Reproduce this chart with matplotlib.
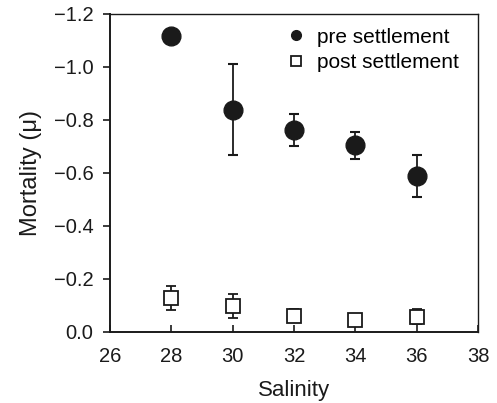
import matplotlib
matplotlib.use("Agg")
import matplotlib.pyplot as plt
from matplotlib.lines import Line2D
from matplotlib.ticker import FuncFormatter

plt.rcParams['font.family'] = ['Liberation Sans', 'DejaVu Sans']

salinity = [28, 30, 32, 34, 36]
pre_mean = [-1.117, -0.838, -0.762, -0.705, -0.588]
pre_err = [0.0, 0.172, 0.060, 0.051, 0.078]
post_mean = [-0.129, -0.099, -0.062, -0.045, -0.057]
post_err = [0.045, 0.046, 0.025, 0.018, 0.028]

ink = '#1a1a1a'

fig = plt.figure(figsize=(4.97, 4.03), dpi=100)
ax = fig.add_axes([0.2213, 0.1762, 0.7405, 0.7891])

ax.errorbar(salinity, pre_mean, yerr=pre_err, fmt='o', color=ink,
            markersize=13.5, ecolor=ink, elinewidth=1.3, capsize=3.5,
            capthick=1.5, zorder=3)
ax.errorbar(salinity, post_mean, yerr=post_err, fmt='s', color=ink,
            markerfacecolor='white', markeredgewidth=1.3, markersize=10,
            ecolor=ink, elinewidth=1.3, capsize=3.5, capthick=1.5,
            zorder=3)

ax.set_xlim(26, 38)
ax.set_ylim(0, -1.2)
ax.set_xticks([26, 28, 30, 32, 34, 36, 38])
ax.set_yticks([0, -0.2, -0.4, -0.6, -0.8, -1.0, -1.2])
ax.yaxis.set_major_formatter(FuncFormatter(
    lambda v, p: '0.0' if abs(v) < 1e-9 else f'{v:.1f}'.replace('-', '\u2212')))

ax.tick_params(axis='y', direction='out', length=5, width=1.2, labelsize=14.5,
               colors=ink, pad=7)
ax.tick_params(axis='x', direction='in', length=5, width=1.2, labelsize=14.5,
               colors=ink, pad=11)

for side in ['left', 'bottom']:
    ax.spines[side].set_linewidth(1.4)
for side in ['top', 'right']:
    ax.spines[side].set_linewidth(1.0)
for s in ax.spines.values():
    s.set_color(ink)

ax.set_xlabel('Salinity', fontsize=16, labelpad=10, color=ink)
ax.set_ylabel('Mortality (\u03bc)', fontsize=17, labelpad=8, color=ink)

handles = [
    Line2D([], [], marker='o', linestyle='none', color=ink, markersize=7),
    Line2D([], [], marker='s', linestyle='none', color=ink,
           markerfacecolor='white', markeredgewidth=1.3, markersize=6.5),
]
ax.legend(handles, ['pre settlement', 'post settlement'], loc='upper left',
          bbox_to_anchor=(0.478, 0.957),
          frameon=False, fontsize=15, handletextpad=0.5, labelspacing=0.3,
          borderaxespad=0.0, handlelength=1.0, borderpad=0.0)

fig.savefig('out.png', dpi=100)
